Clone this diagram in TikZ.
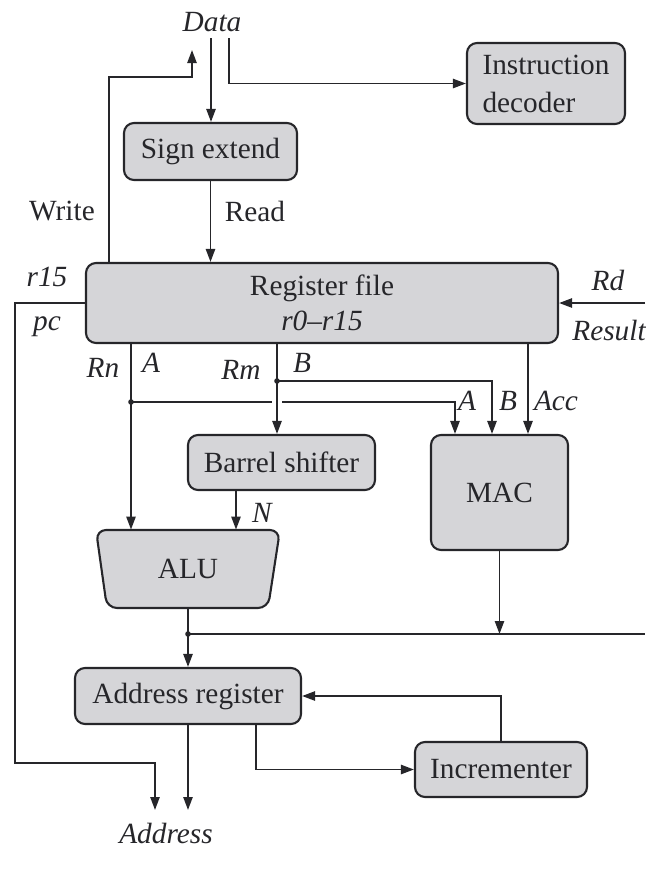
\documentclass[tikz,border=0pt]{standalone}
\usepackage{fontspec}
\setmainfont{Liberation Serif}
\usetikzlibrary{arrows.meta,calc}
\definecolor{boxfill}{RGB}{213,213,216}
\definecolor{ink}{RGB}{38,38,42}
\begin{document}
\begin{tikzpicture}[x=0.5pt,y=-0.5pt,
  font=\fontsize{14.65}{17}\selectfont,
  unit/.style={draw=ink, fill=boxfill, line width=1.05pt, rounded corners=5pt,
    inner sep=0pt, text=ink},
  wire/.style={draw=ink, line width=0.95pt},
  arr/.style={wire, -{Triangle[length=6.5pt,width=4.6pt]}},
  lbl/.style={text=ink, inner sep=0pt, font=\fontsize{14.65}{17}\selectfont\itshape},
  rlbl/.style={text=ink, inner sep=0pt},
  jdot/.style={circle, fill=ink, inner sep=0pt, minimum size=2.8pt}]
\useasboundingbox (0,0) rectangle (645,890);

% functional units
\node[unit, minimum width=86.5pt, minimum height=28.5pt] (sign) at (210.5,151.5) {Sign extend};
\node[unit, minimum width=79pt, minimum height=40.5pt, align=left,
  font=\fontsize{14.65}{19}\selectfont] (dec) at (546,83.5) {Instruction\\decoder};
\node[unit, minimum width=236pt, minimum height=40pt, align=center,
  font=\fontsize{14.65}{17.5}\selectfont] (rf) at (322,303) {Register file\\\textit{r0–r15}};
\node[unit, minimum width=93.5pt, minimum height=27.5pt] (barrel) at (281.5,462.5) {Barrel shifter};
\node[unit, minimum width=68.5pt, minimum height=57.5pt] (mac) at (499.5,492.5) {MAC};
% ALU outline (trapezoid)
\path[unit] (96,530) -- (280,530) -- (268,608) -- (107,608) -- cycle;
\node[inner sep=0pt, minimum width=92pt, minimum height=39pt, text=ink] (alu) at (188,569) {ALU};
\node[unit, minimum width=113pt, minimum height=28pt] (addr) at (188,696) {Address register};
\node[unit, minimum width=86pt, minimum height=27.5pt] (inc) at (501,769.5) {Incrementer};

% labels
\node[lbl] (data) at (212,22) {Data};
\node[rlbl] (write) at (62,211) {Write};
\node[rlbl] (read) at (255,211) {Read};
\node[lbl] (r15) at (47,277) {r15};
\node[lbl] (pc) at (47,327) {pc};
\node[lbl] (rn) at (103,368) {Rn};
\node[lbl] (la) at (151,363) {A};
\node[lbl] (rm) at (241,370) {Rm};
\node[lbl] (lb) at (302,363) {B};
\node[lbl] (ma) at (467,401) {A};
\node[lbl] (mb) at (508,401) {B};
\node[lbl] (macc) at (556,401) {Acc};
\node[lbl] (ln) at (262,513) {N};
\node[lbl] (rd) at (608,280) {Rd};
\node[lbl, anchor=west] (res) at (572,330) {Result};
\node[lbl] (address) at (166,833) {Address};

% routing points
\coordinate (wx) at (109,77);
\coordinate (wtip) at (192,50);
\coordinate (rdtop) at (211,38);
\coordinate (dctop) at (229,38);
\coordinate (pcl) at (15,763);
\coordinate (pca) at (155,810);
\coordinate (ai) at (256,0);
\coordinate (bus) at (188,634);
\coordinate (busr) at (645,634);
\coordinate (rdin) at (645,303);
\coordinate (xa) at (131,0);
\coordinate (ja) at (131,402);
\coordinate (gapl) at (272,402);
\coordinate (gapr) at (282,402);
\coordinate (xma) at (455,0);
\coordinate (xb) at (277,0);
\coordinate (jb) at (277,381);
\coordinate (xmb) at (492,0);
\coordinate (xacc) at (528,0);
\coordinate (xn) at (236,0);

% data bus
\draw[arr] (wx |- rf.north) -- (wx) -| (wtip);
\draw[arr] (rdtop) -- (rdtop |- sign.north);
\draw[arr] (dctop) |- (dec.west);
\draw[arr] (sign.south) -- (sign.south |- rf.north);

% register file ports
\draw[arr] (rdin) -- (rf.east);
\draw[arr] (rf.west) -| (pcl) -| (pca);
\draw[arr] (xa |- rf.south) -- (xa |- alu.north);
\draw[arr] (xb |- rf.south) -- (xb |- barrel.north);
\draw[arr] (xacc |- rf.south) -- (xacc |- mac.north);
\draw[wire] (ja) -- (gapl);
\draw[arr] (gapr) -| (xma |- mac.north);
\draw[arr] (jb) -| (xmb |- mac.north);
\node[jdot] at (ja) {};
\node[jdot] at (jb) {};

% shifter, ALU, MAC
\draw[arr] (xn |- barrel.south) -- (xn |- alu.north);
\draw[arr] (alu.south) -- (addr.north);
\draw[arr] (mac.south) -- (mac.south |- bus);
\draw[wire] (bus) -- (busr);
\node[jdot] at (bus) {};

% address path
\draw[arr] (addr.south) -- (addr.south |- pca);
\draw[arr] (ai |- addr.south) |- (inc.west);
\draw[arr] (inc.north) |- (addr.east);
\end{tikzpicture}
\end{document}
